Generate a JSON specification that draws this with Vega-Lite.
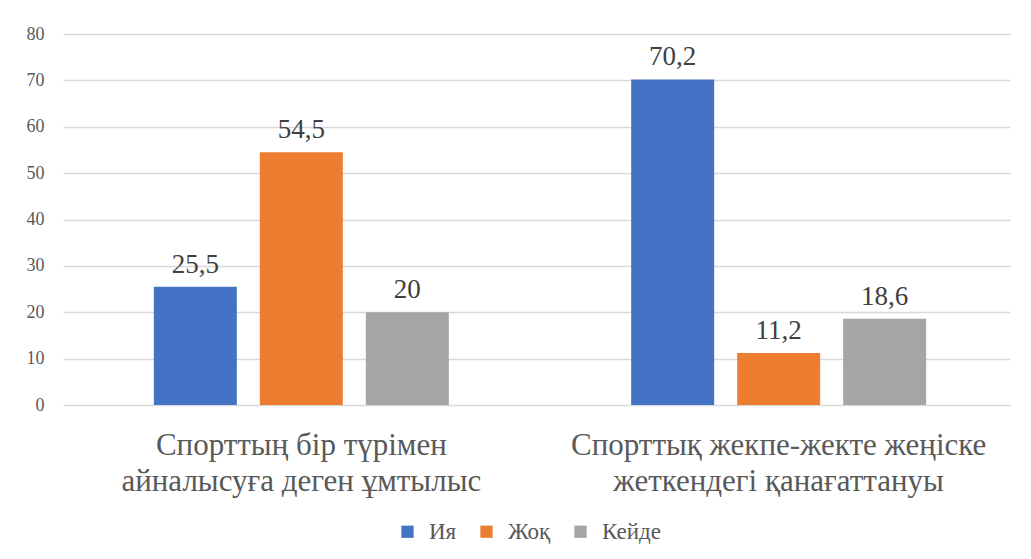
{
  "$schema": "https://vega.github.io/schema/vega-lite/v6.json",
  "width": 947,
  "height": 371,
  "autosize": "none",
  "padding": {"left": 63, "top": 34, "right": 21, "bottom": 154},
  "background": "white",
  "data": {
    "values": [
      {"category": "Спорттың бір түрімен айналысуға деген ұмтылыс", "series": "Ия", "value": 25.5},
      {"category": "Спорттың бір түрімен айналысуға деген ұмтылыс", "series": "Жоқ", "value": 54.5},
      {"category": "Спорттың бір түрімен айналысуға деген ұмтылыс", "series": "Кейде", "value": 20},
      {"category": "Спорттық жекпе-жекте жеңіске жеткендегі қанағаттануы", "series": "Ия", "value": 70.2},
      {"category": "Спорттық жекпе-жекте жеңіске жеткендегі қанағаттануы", "series": "Жоқ", "value": 11.2},
      {"category": "Спорттық жекпе-жекте жеңіске жеткендегі қанағаттануы", "series": "Кейде", "value": 18.6}
    ]
  },
  "encoding": {
    "x": {
      "field": "category",
      "type": "nominal",
      "sort": null,
      "scale": {"paddingInner": 0.382, "paddingOuter": 0.183, "align": 0.52},
      "axis": {
        "title": null,
        "labelAngle": 0,
        "domain": false,
        "ticks": false,
        "labelFont": "Liberation Serif",
        "labelFontSize": 31,
        "labelColor": "#595959",
        "labelPadding": 25,
        "labelLineHeight": 36,
        "labelLimit": 600,
        "labelExpr": "datum.label == 'Спорттың бір түрімен айналысуға деген ұмтылыс' ? ['Спорттың бір түрімен', 'айналысуға деген ұмтылыс'] : ['Спорттық жекпе-жекте жеңіске', 'жеткендегі қанағаттануы']"
      }
    },
    "xOffset": {
      "field": "series",
      "type": "nominal",
      "sort": ["Ия", "Жоқ", "Кейде"],
      "scale": {"paddingInner": 0.217, "paddingOuter": 0}
    },
    "y": {
      "field": "value",
      "type": "quantitative",
      "scale": {"domain": [0, 80]},
      "axis": {
        "title": null,
        "values": [0, 10, 20, 30, 40, 50, 60, 70, 80],
        "domain": false,
        "ticks": false,
        "labelFont": "Liberation Serif",
        "labelFontSize": 18,
        "labelColor": "#595959",
        "labelPadding": 19,
        "gridColor": "#d9d9d9",
        "gridWidth": 1.3
      }
    }
  },
  "layer": [
    {
      "mark": {"type": "bar"},
      "encoding": {
        "color": {
          "field": "series",
          "type": "nominal",
          "sort": ["Ия", "Жоқ", "Кейде"],
          "scale": {"domain": ["Ия", "Жоқ", "Кейде"], "range": ["#4472C4", "#ED7D31", "#A5A5A5"]},
          "legend": {
            "title": null,
            "orient": "none",
            "direction": "horizontal",
            "legendX": 333,
            "legendY": 486,
            "symbolType": "square",
            "symbolSize": 150,
            "symbolStrokeWidth": 0,
            "labelFont": "Liberation Serif",
            "labelFontSize": 23,
            "labelColor": "#595959",
            "labelOffset": 10,
            "columnPadding": 18
          }
        }
      }
    },
    {
      "mark": {"type": "text", "dy": -14, "baseline": "alphabetic", "font": "Liberation Serif", "fontSize": 27, "color": "#404040"},
      "encoding": {
        "text": {"field": "value", "type": "quantitative"}
      }
    }
  ],
  "config": {
    "font": "Liberation Serif",
    "view": {"stroke": null},
    "locale": {"number": {"decimal": ",", "thousands": " ", "grouping": [3], "currency": ["", ""]}}
  }
}
